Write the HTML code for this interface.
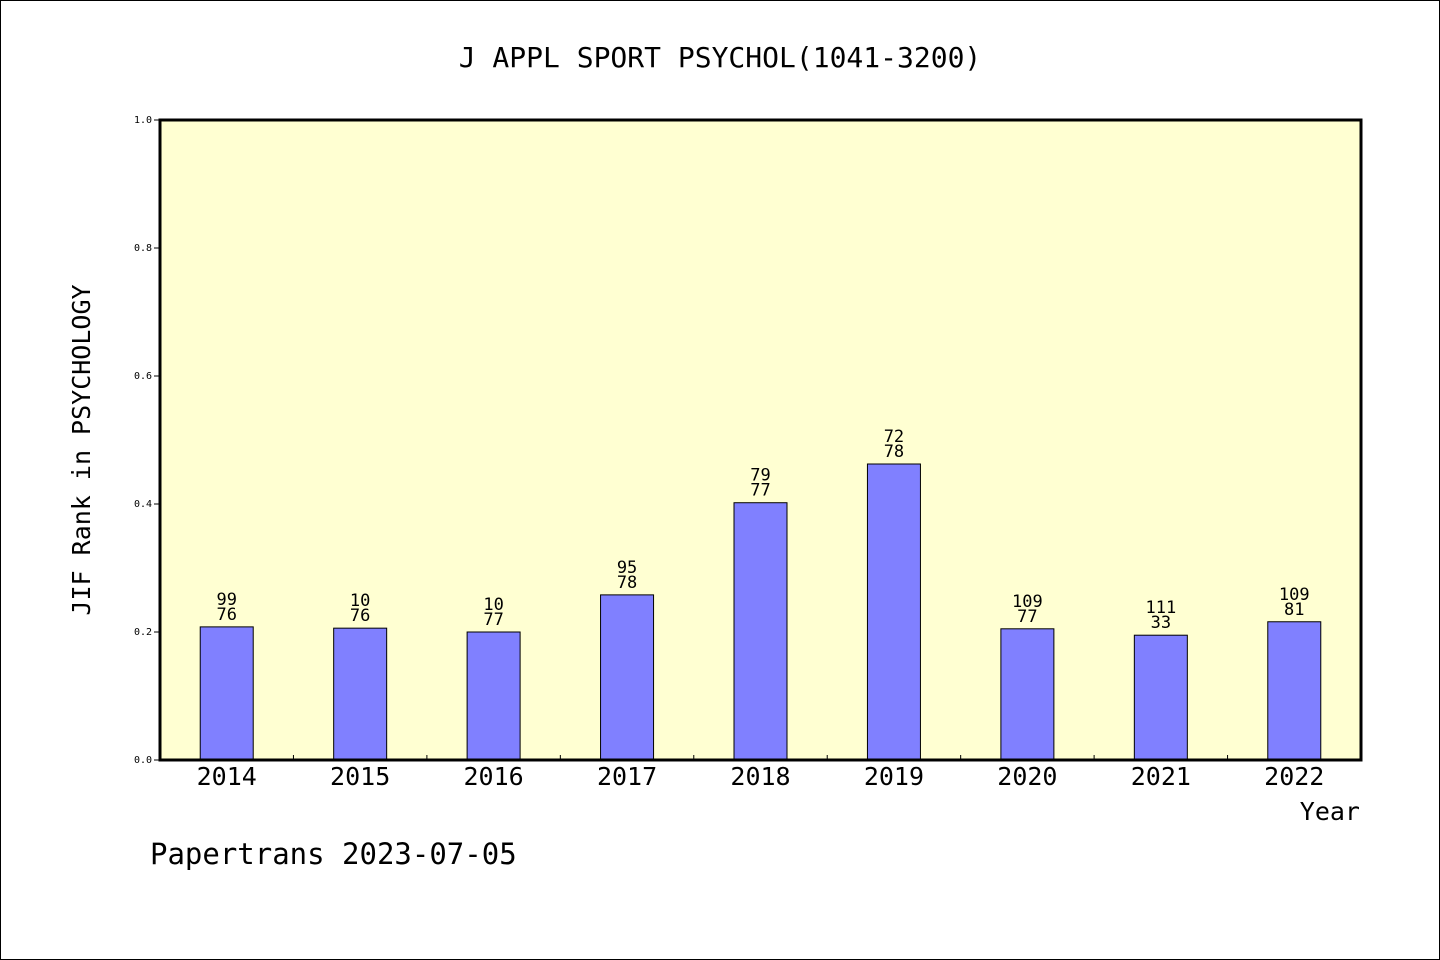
<!DOCTYPE html>
<html><head><meta charset="utf-8"><style>
html,body{margin:0;padding:0;background:#fff}
svg{display:block;font-family:"DejaVu Sans Mono","Liberation Mono",monospace}
</style></head><body>
<svg id="chart" width="1440" height="960" viewBox="0 0 1440 960">
<rect x="0.5" y="0.5" width="1439" height="959" fill="#fff" stroke="#000" stroke-width="1"/>
<text x="720" y="67" text-anchor="middle" font-size="28">J APPL SPORT PSYCHOL(1041-3200)</text>
<rect x="160" y="120" width="1201" height="640" fill="#ffffd2"/>
<g id="bars"></g>
<g id="ticks"></g>
<rect x="160" y="120" width="1201" height="640" fill="none" stroke="#000" stroke-width="3"/>
<text transform="translate(90,450) rotate(-90)" text-anchor="middle" font-size="25">JIF Rank in PSYCHOLOGY</text>
<text x="1360" y="820" text-anchor="end" font-size="25">Year</text>
<text x="150" y="864" font-size="29">Papertrans 2023-07-05</text>
</svg>
<script>
const categories=["2014","2015","2016","2017","2018","2019","2020","2021","2022"];
const values=[0.208,0.206,0.200,0.258,0.402,0.4625,0.205,0.195,0.216];
const labelTop=["99","10","10","95","79","72","109","111","109"];
const labelBottom=["76","76","77","78","77","78","77","33","81"];
const yTicks=[0,0.2,0.4,0.6,0.8,1.0];
const yTickLabels=["0.0","0.2","0.4","0.6","0.8","1.0"];
const NS="http://www.w3.org/2000/svg";
const L=160,R=1361,T=120,B=760;
const band=(R-L)/categories.length;
const x=i=>L+(i+0.5)*band;
const y=v=>B-(v)*(B-T);
const bars=document.getElementById('bars'),ticks=document.getElementById('ticks');
function mk(tag,attrs,parent,text){const e=document.createElementNS(NS,tag);for(const k in attrs)e.setAttribute(k,attrs[k]);if(text!==undefined)e.textContent=text;parent.appendChild(e);return e;}
categories.forEach((c,i)=>{
  const bw=53;
  const r=mk('rect',{x:x(i)-bw/2,y:y(values[i]),width:bw,height:B-y(values[i]),fill:'#8080ff',stroke:'#000','stroke-width':1},bars);
  
  
  const t1=mk('text',{x:x(i),y:y(values[i])-22,'text-anchor':'middle','font-size':17},bars,labelTop[i]);
  
  
  const t2=mk('text',{x:x(i),y:y(values[i])-7,'text-anchor':'middle','font-size':17},bars,labelBottom[i]);
  
  
  const xl=mk('text',{x:x(i),y:785,'text-anchor':'middle','font-size':25},ticks,c);
  
  
  if(i>0){
    const tk=mk('line',{x1:L+i*band,x2:L+i*band,y1:B,y2:B-5,stroke:'#000','stroke-width':1},ticks);
    
    
  }
});
yTicks.forEach((v,i)=>{
  const tk=mk('line',{x1:L-6,x2:L,y1:y(v),y2:y(v),stroke:'#000','stroke-width':1},ticks);
  
  
  const tl=mk('text',{x:L-8,y:y(v)+3,'text-anchor':'end','font-size':10},ticks,yTickLabels[i]);
  
  
});
</script>
</body></html>
